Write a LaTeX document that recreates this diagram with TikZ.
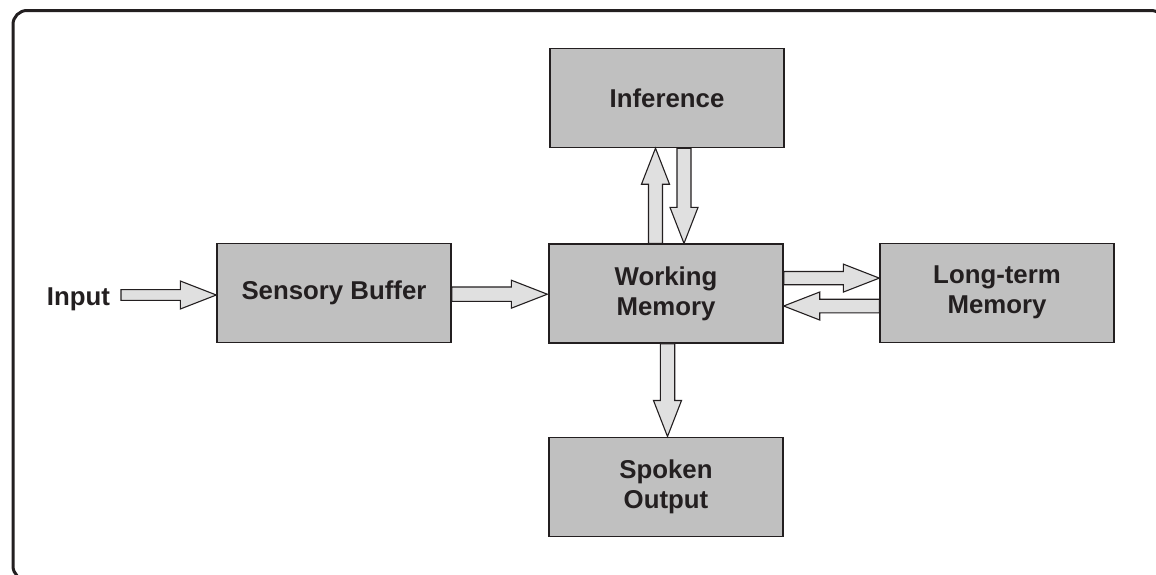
\documentclass[tikz,border=0pt]{standalone}
\usepackage{fontspec}
\setmainfont{Liberation Sans}
\usetikzlibrary{calc}
\definecolor{ink}{HTML}{231F20}
\definecolor{boxgray}{HTML}{C0C0C0}
\definecolor{arrgray}{HTML}{E0E0E0}
\tikzset{
  box/.style={draw=ink, line width=0.7pt, fill=boxgray, minimum width=117pt, minimum height=49.5pt,
    inner sep=0pt, align=center, font=\bfseries\fontsize{12.9}{15}\selectfont, text=ink},
  lab/.style={font=\bfseries\fontsize{12.9}{15}\selectfont, text=ink, inner sep=0pt},
  arr/.style={draw=ink, line width=0.55pt, fill=arrgray, line join=miter},
  frame/.style={draw=ink, line width=1.5pt, rounded corners=7pt}
}
% #1 shaft half width, #2 start coordinate, #3 tip coordinate
\newcommand\blockarrow[3]{%
  \coordinate (ba-c) at ($(#3)!18pt!(#2)$);
  \filldraw[arr] ($(#2)!#1!90:(#3)$) -- ($(ba-c)!#1!90:(#3)$) -- ($(ba-c)!7pt!90:(#3)$) -- (#3)
    -- ($(ba-c)!7pt!-90:(#3)$) -- ($(ba-c)!#1!-90:(#3)$) -- ($(#2)!#1!-90:(#3)$) -- cycle;}
\begin{document}
\begin{tikzpicture}[x=0.5pt, y=-0.5pt]
\useasboundingbox (0,0) rectangle (1156,574);
\clip (0,0) rectangle (1156,574);
\path[fill=white] (0,0) rectangle (1156,574);
\draw[frame] (13,10.5) rectangle (1165,580);

\node[box] (sb)  at (334,292.7) {Sensory Buffer};
\node[box] (wm)  at (666,293.6) {Working\\Memory};
\node[box] (inf) at (667,98)    {Inference};
\node[box] (ltm) at (997,292.7) {Long-term\\Memory};
\node[box] (so)  at (666,486.7) {Spoken\\Output};
\node[lab, anchor=base] (inlab) at (78.5,305) {Input};

\coordinate (a1s) at (121,295);
\coordinate (a1t) at (sb.west |- a1s);
\coordinate (a2s) at ($(sb.east)+(0,1.5)$);
\coordinate (a2t) at ($(wm.west)+(-1,0.6)$);
\coordinate (a3s) at ($(wm.north)+(-10.5,0)$);
\coordinate (a3t) at (a3s |- inf.south);
\coordinate (a4s) at ($(inf.south)+(17,0)$);
\coordinate (a4t) at (a4s |- wm.north);
\coordinate (a5s) at ($(wm.east)+(0,-15.5)$);
\coordinate (a5t) at (a5s -| ltm.west);
\coordinate (a6s) at ($(ltm.west)+(0,13.3)$);
\coordinate (a6t) at (a6s -| wm.east);
\coordinate (a7s) at ($(wm.south)+(1.5,0)$);
\coordinate (a7t) at (a7s |- so.north);

\blockarrow{2.7pt}{a1s}{a1t}
\blockarrow{3.6pt}{a2s}{a2t}
\blockarrow{3.5pt}{a3s}{a3t}
\blockarrow{3.5pt}{a4s}{a4t}
\blockarrow{3.3pt}{a5s}{a5t}
\blockarrow{3.4pt}{a6s}{a6t}
\blockarrow{3.6pt}{a7s}{a7t}
\end{tikzpicture}
\end{document}
